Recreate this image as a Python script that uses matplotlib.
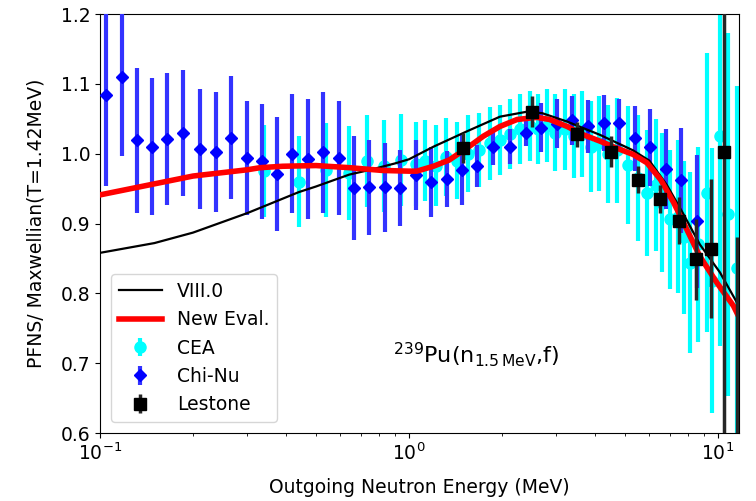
import matplotlib
matplotlib.use("Agg")
import matplotlib.pyplot as plt
import numpy as np

plt.rcParams['font.family'] = ['DejaVu Sans']
plt.rcParams['mathtext.default'] = 'regular'
FS = 13.5

# ENDF/B-VIII.0 evaluation, ratio to Maxwellian
viii_e = np.array([0.1, 0.15, 0.2, 0.3, 0.44, 0.5, 0.64, 0.75, 0.9, 1.0, 1.2, 1.54, 1.97,
                   2.4, 2.7, 3.25, 4.15, 5.3, 6.0, 6.84, 7.7, 8.74, 10.15, 12.0])
viii_r = np.array([0.858, 0.872, 0.887, 0.915, 0.945, 0.953, 0.970, 0.977, 0.986, 0.992,
                   1.010, 1.032, 1.053, 1.060, 1.058, 1.046, 1.027, 1.005, 0.990, 0.955,
                   0.915, 0.870, 0.830, 0.773])

# new evaluation
new_e = np.array([0.1, 0.2, 0.3, 0.33, 0.39, 0.5, 0.64, 0.82, 1.0, 1.06, 1.2, 1.35, 1.54,
                  1.74, 1.97, 2.24, 2.59, 2.85, 3.25, 3.67, 4.15, 4.7, 5.31, 5.89, 6.52,
                  7.19, 7.94, 8.74, 9.93, 11.23, 12.0])
new_r = np.array([0.941, 0.968, 0.977, 0.980, 0.982, 0.983, 0.980, 0.976, 0.975, 0.975,
                  0.982, 0.991, 1.008, 1.025, 1.039, 1.049, 1.052, 1.049, 1.039, 1.027,
                  1.018, 1.008, 0.999, 0.987, 0.963, 0.930, 0.891, 0.853, 0.815, 0.782,
                  0.756])

# CEA data
cea_e = np.array([0.34, 0.44, 0.54, 0.64, 0.73, 0.83, 0.94, 1.05, 1.13, 1.22, 1.32, 1.43,
                  1.55, 1.69, 1.83, 1.97, 2.12, 2.29, 2.46, 2.62, 2.80, 2.98, 3.20, 3.42,
                  3.63, 3.88, 4.12, 4.42, 4.70, 5.1, 5.5, 5.9, 6.3, 6.6, 7.0, 7.4, 7.75,
                  8.12, 8.6, 9.2, 9.56, 10.16, 10.8, 11.5])
cea_r = np.array([0.975, 0.960, 0.977, 0.972, 0.990, 0.982, 0.991, 0.985, 0.990, 0.983,
                  0.995, 0.990, 1.000, 1.005, 1.015, 1.020, 1.028, 1.035, 1.040, 1.035,
                  1.040, 1.030, 1.035, 1.025, 1.028, 1.010, 1.015, 1.000, 1.005, 0.984,
                  0.965, 0.944, 0.955, 0.930, 0.906, 0.910, 0.880, 0.844, 0.870, 0.944,
                  0.818, 1.025, 0.913, 0.837])
cea_err = np.array([0.066, 0.065, 0.067, 0.067, 0.066, 0.066, 0.066, 0.060, 0.058, 0.058,
                    0.056, 0.055, 0.055, 0.053, 0.052, 0.050, 0.050, 0.050, 0.050, 0.050,
                    0.052, 0.055, 0.058, 0.060, 0.062, 0.065, 0.068, 0.070, 0.075, 0.085,
                    0.090, 0.090, 0.095, 0.100, 0.100, 0.110, 0.110, 0.130, 0.140, 0.200,
                    0.190, 0.300, 0.260, 0.260])

# Chi-Nu data
chinu_e = np.array([0.1045, 0.1174, 0.1317, 0.1474, 0.1647, 0.1856, 0.2107, 0.2373, 0.2654,
                    0.2989, 0.3343, 0.3739, 0.4181, 0.4711, 0.5268, 0.5935, 0.6638, 0.7423,
                    0.8363, 0.9352, 1.054, 1.178, 1.327, 1.484, 1.660, 1.870, 2.123, 2.391,
                    2.674, 3.013, 3.370, 3.796, 4.277, 4.782, 5.387, 6.025, 6.788, 7.592,
                    8.551])
chinu_r = np.array([1.084, 1.110, 1.019, 1.010, 1.021, 1.030, 1.007, 1.003, 1.023, 0.994,
                    0.989, 0.971, 1.000, 0.993, 1.002, 0.994, 0.951, 0.952, 0.952, 0.951,
                    0.970, 0.960, 0.964, 0.977, 0.982, 1.009, 1.010, 1.029, 1.037, 1.043,
                    1.048, 1.039, 1.044, 1.044, 1.022, 1.009, 0.978, 0.962, 0.903])
chinu_err = np.array([0.130, 0.114, 0.104, 0.098, 0.095, 0.090, 0.086, 0.086, 0.088, 0.082,
                      0.082, 0.081, 0.085, 0.086, 0.087, 0.082, 0.074, 0.068, 0.064, 0.055,
                      0.050, 0.050, 0.040, 0.050, 0.030, 0.025, 0.025, 0.018, 0.035, 0.035,
                      0.035, 0.038, 0.040, 0.035, 0.047, 0.055, 0.057, 0.075, 0.095])

# Lestone data
lest_e = np.array([1.5, 2.5, 3.5, 4.5, 5.5, 6.5, 7.5, 8.5, 9.5, 10.5, 11.5])
lest_r = np.array([1.008, 1.060, 1.028, 1.003, 0.963, 0.935, 0.904, 0.849, 0.864, 1.002, 0.45])
lest_err = np.array([0.021, 0.022, 0.018, 0.022, 0.019, 0.020, 0.034, 0.058, 0.100, 0.600, 0.43])

fig = plt.figure(figsize=(7.56, 5.01), dpi=100)
ax = fig.add_axes([0.1323, 0.1357, 0.9775 - 0.1323, 0.972 - 0.1357])

ax.errorbar(cea_e, cea_r, yerr=cea_err, fmt='o', color='cyan', ms=8,
            elinewidth=3, capsize=0, label='CEA', zorder=2)
ax.errorbar(chinu_e, chinu_r, yerr=chinu_err, fmt='D', color='blue', ms=6.5,
            ecolor=(0.2, 0.2, 1.0), elinewidth=3, capsize=0, label='Chi-Nu', zorder=3)
ax.plot(viii_e, viii_r, color='black', lw=1.6, label='VIII.0', zorder=4)
ax.plot(new_e, new_r, color='red', lw=4, label='New Eval.', zorder=5)
ax.errorbar(lest_e, lest_r, yerr=lest_err, fmt='s', color='black', ms=8,
            ecolor=(0.15, 0.15, 0.15), elinewidth=2.5, capsize=0, label='Lestone', zorder=6)

ax.set_xscale('log')
ax.set_xlim(0.1, 11.7)
ax.set_ylim(0.6, 1.2)
ax.set_yticks(np.arange(0.6, 1.21, 0.1))
ax.yaxis.set_major_formatter(matplotlib.ticker.FormatStrFormatter('%.1f'))
ax.tick_params(labelsize=FS)

ax.set_xlabel('Outgoing Neutron Energy (MeV)', fontsize=FS, labelpad=10)
ax.set_ylabel('PFNS/ Maxwellian(T=1.42MeV)', fontsize=FS, labelpad=11)

ax.text(0.4585, 0.169, r'$^{239}$Pu(n$_{1.5\,MeV}$,f)', transform=ax.transAxes,
        fontsize=16, ha='left', va='baseline')

ax.legend(loc='lower left', fontsize=FS, handlelength=2.3, borderaxespad=0.6)

fig.savefig('out.png', dpi=100)
